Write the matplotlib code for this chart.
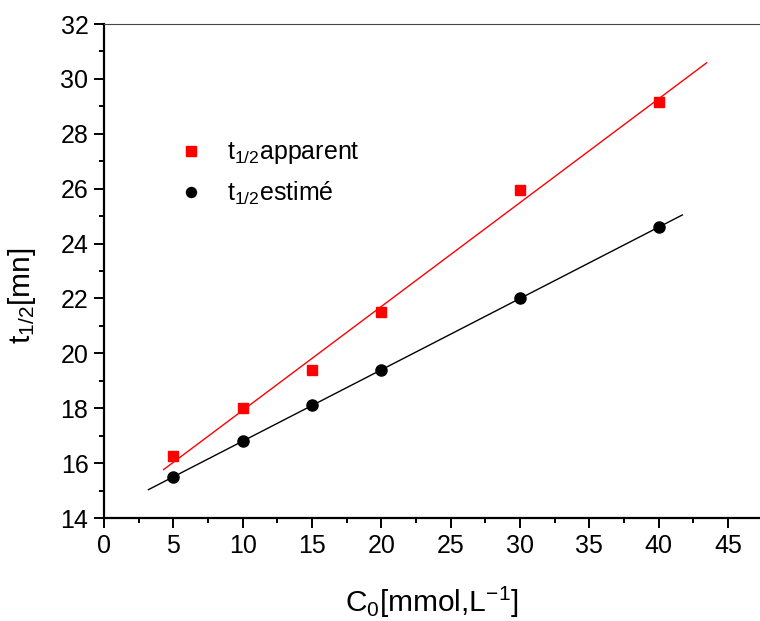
import numpy as np
import matplotlib
matplotlib.use("Agg")
import matplotlib.pyplot as plt
from matplotlib.ticker import MultipleLocator

plt.rcParams['font.family'] = ['Liberation Sans', 'DejaVu Sans']
plt.rcParams['mathtext.fontset'] = 'custom'
plt.rcParams['mathtext.rm'] = 'Liberation Sans'
plt.rcParams['mathtext.it'] = 'Liberation Sans'

# Initial concentration C0 (mmol/L)
conc = [5, 10, 15, 20, 30, 40]
# Half-life values (min)
t_apparent = [16.25, 18.0, 19.4, 21.5, 25.95, 29.15]
t_estime = [15.5, 16.8, 18.1, 19.4, 22.0, 24.6]
# Extent of the fitted lines along C0
fit_range_apparent = [4.3, 43.45]
fit_range_estime = [3.2, 41.7]

fig = plt.figure(figsize=(7.6, 6.21), dpi=100)
ax = fig.add_axes([104 / 760, 103 / 621, 656 / 760, 494 / 621])

# Linear regressions
for y, rng, col in [(t_apparent, fit_range_apparent, 'red'),
                    (t_estime, fit_range_estime, 'black')]:
    slope, intercept = np.polyfit(conc, y, 1)
    xs = np.array(rng)
    ax.plot(xs, slope * xs + intercept, color=col, lw=1.0, zorder=2)

ax.plot(conc, t_apparent, 's', color='red', ms=7.5, mec='red',
        label=r'$\mathregular{t_{1/2}}$apparent', zorder=3)
ax.plot(conc, t_estime, 'o', color='black', ms=8, mec='black',
        label=r'$\mathregular{t_{1/2}}$estimé', zorder=3)

ax.set_xlim(0, 47.3)
ax.set_ylim(14, 32)
ax.xaxis.set_major_locator(MultipleLocator(5))
ax.xaxis.set_minor_locator(MultipleLocator(2.5))
ax.yaxis.set_major_locator(MultipleLocator(2))
ax.yaxis.set_minor_locator(MultipleLocator(1))

ax.spines['right'].set_visible(False)
ax.spines['top'].set_linewidth(0.8)
ax.spines['top'].set_color('#444444')
for s in ['left', 'bottom']:
    ax.spines[s].set_linewidth(1.6)

ax.tick_params(which='major', direction='out', length=7.2, width=1.4,
               labelsize=18, pad=4)
ax.tick_params(which='minor', direction='out', length=3.6, width=1.4)
ax.tick_params(top=False, right=False, which='both')

ax.set_xlabel(r'C$\mathregular{_0}$[mmol,L$\mathregular{^{-1}}$]', fontsize=21.5)
ax.xaxis.set_label_coords(0.50, -0.135)
ax.set_ylabel(r't$\mathregular{_{1/2}}$[mn]', fontsize=21.5)
ax.yaxis.set_label_coords(-0.10, 0.45)

ax.legend(loc='upper left', bbox_to_anchor=(0.07, 0.81), frameon=False,
          fontsize=18, handletextpad=0.7, labelspacing=0.55, markerscale=0.9,
          handlelength=1.5, numpoints=1)

fig.savefig('out.png', dpi=100)
